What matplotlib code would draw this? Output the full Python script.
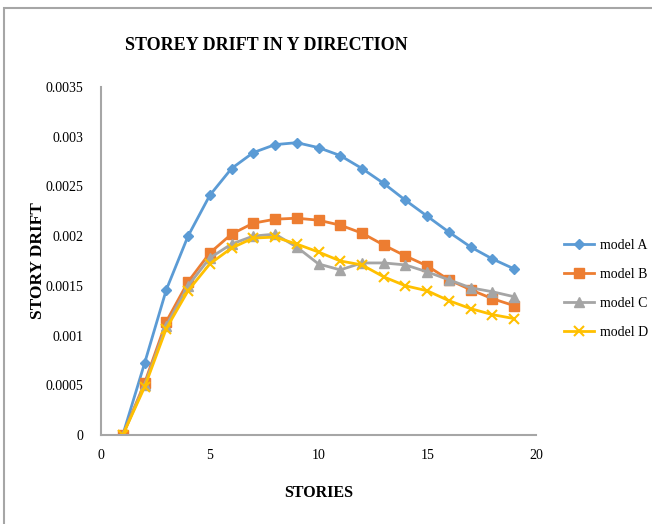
import matplotlib.pyplot as plt
from matplotlib.patches import Rectangle

# storey drift values per floor for each model
stories = [1, 2, 3, 4, 5, 6, 7, 8, 9, 10, 11, 12, 13, 14, 15, 16, 17, 18, 19]
model_a = [0, 0.00072, 0.00146, 0.00200, 0.00241, 0.00268, 0.00284, 0.00292, 0.00294, 0.00289,
           0.00281, 0.00268, 0.00253, 0.00236, 0.00220, 0.00204, 0.00189, 0.00177, 0.00167]
model_b = [0, 0.00052, 0.00114, 0.00154, 0.00183, 0.00202, 0.00213, 0.00217, 0.00218, 0.00216,
           0.00211, 0.00203, 0.00191, 0.00180, 0.00170, 0.00156, 0.00146, 0.00137, 0.00130]
model_c = [0, 0.00050, 0.00110, 0.00150, 0.00178, 0.00192, 0.00200, 0.00202, 0.00189, 0.00172,
           0.00166, 0.00173, 0.00173, 0.00171, 0.00164, 0.00156, 0.00148, 0.00144, 0.00139]
model_d = [0, 0.00048, 0.00107, 0.00145, 0.00172, 0.00188, 0.00198, 0.00199, 0.00192, 0.00184,
           0.00175, 0.00171, 0.00159, 0.00150, 0.00145, 0.00135, 0.00127, 0.00121, 0.00117]

plt.rcParams['font.family'] = ['Liberation Serif', 'DejaVu Serif']

fig = plt.figure(figsize=(6.52, 5.24), dpi=100)
fig.patches.append(Rectangle((0.006, -0.05), 1.2, 1.035, transform=fig.transFigure,
                             fill=False, edgecolor='#a6a6a6', linewidth=1.5))

ax = fig.add_axes([0.155, 0.170, 0.667, 0.664])

ax.plot(stories, model_a, color='#5B9BD5', marker='D', markersize=5, linewidth=2, label='model A')
ax.plot(stories, model_b, color='#ED7D31', marker='s', markersize=6.5, linewidth=2, label='model B')
ax.plot(stories, model_c, color='#A5A5A5', marker='^', markersize=7, linewidth=2, label='model C')
ax.plot(stories, model_d, color='#FFC000', marker='x', markersize=7, markeredgewidth=1.5,
        linewidth=2, label='model D')

ax.set_xlim(0, 20)
ax.set_ylim(0, 0.0035)
ax.set_xticks([0, 5, 10, 15, 20])
ax.set_yticks([0, 0.0005, 0.001, 0.0015, 0.002, 0.0025, 0.003, 0.0035])
ax.set_yticklabels(['0', '0.0005', '0.001', '0.0015', '0.002', '0.0025', '0.003', '0.0035'])
ax.tick_params(length=0, labelsize=10)
ax.tick_params(axis='y', pad=13)
ax.tick_params(axis='x', pad=10)

for side in ['top', 'right']:
    ax.spines[side].set_visible(False)
for side in ['left', 'bottom']:
    ax.spines[side].set_color('#a6a6a6')
    ax.spines[side].set_linewidth(1.5)

ax.set_xlabel('STORIES', fontsize=11.5, fontweight='bold', labelpad=17)
ax.set_ylabel('STORY DRIFT', fontsize=12.5, fontweight='bold')
ax.yaxis.set_label_coords(-0.127, 0.5)
fig.text(0.408, 0.914, 'STOREY DRIFT IN Y DIRECTION', ha='center', va='center',
         fontsize=13, fontweight='bold')

ax.legend(loc='center left', bbox_to_anchor=(1.035, 0.42), frameon=False, fontsize=10,
          labelspacing=1.15, handlelength=2.2, handletextpad=0.4)

fig.savefig('out.png', dpi=100)
